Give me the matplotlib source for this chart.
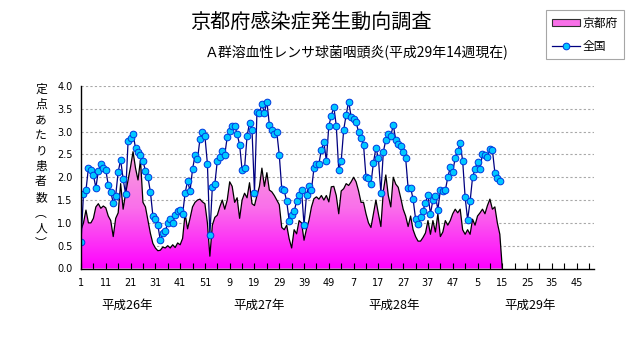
import matplotlib
matplotlib.use('Agg')
import matplotlib.pyplot as plt
import numpy as np
from matplotlib.colors import LinearSegmentedColormap
from matplotlib.patches import Polygon, Patch
from matplotlib.lines import Line2D
from matplotlib.transforms import blended_transform_factory

plt.rcParams['font.family'] = ['Noto Sans CJK JP', 'DejaVu Sans']

title = "京都府感染症発生動向調査"
subtitle = "Ａ群溶血性レンサ球菌咽頭炎(平成29年14週現在)"
ylabel_chars = ["定", "点", "あ", "た", "り", "患", "者", "数", "︵", "人", "︶"]
legend_labels = ["京都府", "全国"]
year_labels = ["平成26年", "平成27年", "平成28年", "平成29年"]
year_label_pos = [18.5, 72, 126.5, 181]
tick_labels = ["1", "11", "21", "31", "41", "51", "9", "19", "29", "39", "49",
               "7", "17", "27", "37", "47", "5", "15", "25", "35", "45"]
n_weeks_axis = 208

# Kyoto prefecture (per sentinel) - weekly, H26 wk1 .. H29 wk15
kyoto = [0.85, 1.0, 1.28, 1.0, 1.0, 1.1, 1.35, 1.42, 1.32, 1.37,
         1.33, 1.15, 1.05, 0.70, 1.1, 1.22, 1.86, 1.3, 1.65, 1.94,
         2.23, 2.56, 2.2, 1.94, 2.38, 1.45, 1.35, 1.06, 0.77, 0.55,
         0.45, 0.39, 0.40, 0.47, 0.45, 0.50, 0.45, 0.52, 0.46, 0.56,
         0.52, 0.66, 1.2, 0.87, 1.1, 1.35, 1.45, 1.5, 1.52, 1.46,
         1.42, 1.0, 0.27, 0.95, 1.12, 1.17, 1.35, 1.5, 1.3, 1.5,
         1.9, 1.8, 1.45, 1.55, 1.1, 1.5, 1.65, 1.55, 1.88, 1.42,
         1.38, 1.6, 1.8, 2.2, 1.8, 2.1, 1.72, 1.68, 1.6, 1.5,
         1.4, 0.9, 0.85, 0.95, 0.65, 0.45, 0.85, 0.76, 1.05, 1.0,
         0.62, 0.87, 1.06, 1.35, 1.53, 1.57, 1.52, 1.6, 1.5, 1.6,
         1.46, 1.79, 1.8, 1.6, 1.2, 1.7, 1.75, 1.86, 1.82, 1.9,
         2.0, 1.9, 1.7, 1.45, 1.45, 1.2, 1.0, 0.9, 1.2, 1.5,
         1.2, 0.92, 1.7, 2.05, 1.6, 1.35, 2.0, 1.85, 1.78, 1.55,
         1.3, 1.15, 0.92, 1.15, 0.85, 0.7, 0.6, 0.6, 0.68, 0.78,
         1.05, 0.75, 1.05, 0.8, 1.2, 0.7, 0.8, 1.05, 0.95, 1.05,
         1.2, 1.3, 1.22, 1.3, 0.85, 0.75, 0.85, 0.75, 1.08, 0.95,
         1.15, 1.22, 1.3, 1.2, 1.38, 1.52, 1.3, 1.35, 1.0, 0.75,
         0.0]

# National (per sentinel) - weekly, H26 wk1 .. H29 wk14
zenkoku = [0.57, 1.64, 1.71, 2.21, 2.16, 2.05, 1.77, 2.14, 2.30, 2.21,
           2.16, 1.83, 1.68, 1.44, 1.60, 2.12, 2.38, 1.96, 1.63, 2.79,
           2.87, 2.95, 2.64, 2.56, 2.49, 2.36, 2.14, 2.00, 1.68, 1.16,
           1.09, 0.95, 0.62, 0.77, 0.82, 0.99, 1.09, 0.99, 1.18, 1.27,
           1.28, 1.19, 1.65, 1.92, 1.70, 2.17, 2.48, 2.39, 2.84, 2.99,
           2.90, 2.30, 0.73, 1.79, 1.85, 2.36, 2.45, 2.57, 2.49, 2.88,
           3.01, 3.12, 3.13, 2.95, 2.71, 2.16, 2.20, 2.90, 3.19, 3.04,
           1.66, 3.43, 3.41, 3.60, 3.41, 3.66, 3.15, 3.04, 2.95, 2.99,
           2.49, 1.75, 1.71, 1.47, 1.05, 1.18, 1.25, 1.47, 1.62, 1.71,
           0.95, 1.62, 1.81, 1.73, 2.20, 2.30, 2.30, 2.60, 2.77, 2.36,
           3.13, 3.34, 3.55, 3.13, 2.16, 2.36, 3.04, 3.37, 3.66, 3.33,
           3.28, 3.21, 2.99, 2.85, 2.71, 2.00, 1.98, 1.86, 2.32, 2.64,
           2.42, 1.66, 2.56, 2.82, 2.95, 2.90, 3.15, 2.82, 2.73, 2.68,
           2.55, 2.42, 1.76, 1.77, 1.52, 1.09, 0.98, 1.13, 1.27, 1.44,
           1.61, 1.20, 1.50, 1.60, 1.29, 1.71, 1.70, 1.71, 2.00, 2.22,
           2.11, 2.43, 2.58, 2.74, 2.36, 1.56, 1.07, 1.47, 2.00, 2.18,
           2.34, 2.18, 2.52, 2.48, 2.44, 2.61, 2.60, 2.10, 1.98, 1.91]

W, H = 631, 347
fig = plt.figure(figsize=(W / 100, H / 100), dpi=100)
x0, x1, yb, yt = 81, 594, 268.5, 86
ax = fig.add_axes([x0 / W, 1 - yb / H, (x1 - x0) / W, (yb - yt) / H])

xk = np.arange(len(kyoto))
xz = np.arange(len(zenkoku))

# gradient area for Kyoto
verts = [(0, 0)] + list(zip(xk, kyoto)) + [(xk[-1], 0)]
poly = Polygon(verts, closed=True, facecolor='none', edgecolor='none')
ax.add_patch(poly)
cmap = LinearSegmentedColormap.from_list('g', ['#FF00FF', '#FA70EA', '#F6A8DA'])
grad = np.linspace(0, 1, 256).reshape(-1, 1)
im = ax.imshow(grad, extent=[0, xk[-1], 0, 2.7], origin='lower', aspect='auto',
               cmap=cmap, zorder=1, interpolation='bilinear')
im.set_clip_path(poly)
ax.plot(xk, kyoto, color='black', lw=0.9, zorder=2)

# grid
for v in np.arange(0.5, 4.01, 0.5):
    ax.axhline(v, color='#A8A8A8', lw=0.8, ls=(0, (2, 2)), zorder=0.5)

ax.plot(xz, zenkoku, color='#000080', lw=0.9, marker='o', ms=4.8,
        mfc='#00C8FF', mec='#0038E0', mew=0.7, zorder=3)

ax.set_xlim(0, n_weeks_axis - 1)
ax.set_ylim(0, 4.0)
for s in ['top', 'right']:
    ax.spines[s].set_visible(False)
for s in ['left', 'bottom']:
    ax.spines[s].set_color('black')
    ax.spines[s].set_linewidth(1.0)
    ax.spines[s].set_zorder(4)

yt_vals = np.arange(0, 4.01, 0.5)
ax.set_yticks(yt_vals)
ax.set_yticklabels([f"{v:.1f}" for v in yt_vals], fontsize=7, family='DejaVu Sans')
ax.tick_params(axis='y', length=0, pad=6)

ax.set_xticks(np.arange(0, 201, 10))
ax.set_xticklabels(tick_labels, fontsize=7, family='DejaVu Sans')
ax.set_xticks(np.arange(5, 206, 10), minor=True)
ax.tick_params(axis='x', which='both', direction='in', length=4, width=0.8, pad=7)

tr = blended_transform_factory(ax.transData, ax.transAxes)
for lab, p in zip(year_labels, year_label_pos):
    ax.text(p, -0.2, lab, transform=tr, ha='center', va='center', fontsize=9)

fig.text(311 / W, 1 - 22 / H, title, ha='center', va='center', fontsize=14.5)
fig.text(357 / W, 1 - 52 / H, subtitle, ha='center', va='center', fontsize=10)

# vertical y label
for i, ch in enumerate(ylabel_chars):
    fig.text(41 / W, 1 - (89 + i * 15.5) / H, ch, ha='center', va='center', fontsize=8.5)

handles = [Patch(facecolor='#F870E8', edgecolor='#303030', linewidth=0.8),
           Line2D([], [], color='#000080', lw=0.9, marker='o', ms=4.8,
                  mfc='#00C8FF', mec='#0038E0', mew=0.7)]
leg = fig.legend(handles, legend_labels, loc='upper left',
                 bbox_to_anchor=(546 / W, 1 - 10 / H), frameon=True, fancybox=False,
                 edgecolor='#909090', fontsize=8.5, handlelength=2.3, handleheight=0.6,
                 borderpad=0.55, labelspacing=0.85, handletextpad=0.25, borderaxespad=0)
leg.get_frame().set_linewidth(0.8)

fig.savefig('out.png', dpi=100)
